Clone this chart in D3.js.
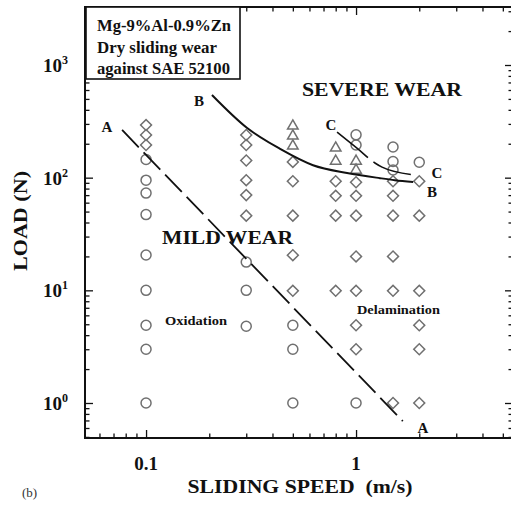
<!DOCTYPE html>
<html><head><meta charset="utf-8">
<script src="https://cdn.jsdelivr.net/npm/d3@7"></script>
<style>
html,body{margin:0;padding:0;background:#fff;}
svg{display:block;font-family:"Liberation Serif","Times New Roman",serif;}
</style></head>
<body><svg id="c" width="511" height="507"></svg>
<script>
// ---- data ----
const speeds = [0.1, 0.3, 0.5, 0.8, 1.0, 1.5, 2.0];
// circles (oxidation / mild wear)
const circleX = [0.1,0.1,0.1,0.1,0.1,0.1,0.1,0.1,0.1, 0.3,0.3,0.3, 0.5,0.5,0.5, 1.0,1.0,1.0, 1.5,1.5,1.5, 2.0];
const circleY = [145,95,73,47,20.6,10,4.9,3.0,1, 17.8,10,4.8, 4.9,3.0,1, 240,195,1, 187,139,117, 137];
// diamonds (delamination)
const diamondX = [0.1,0.1,0.1, 0.3,0.3,0.3,0.3,0.3,0.3, 0.5,0.5,0.5,0.5,0.5, 0.8,0.8,0.8,0.8, 1.0,1.0,1.0,1.0,1.0,1.0,1.0, 1.5,1.5,1.5,1.5,1.5,1.5, 2.0,2.0,2.0,2.0,2.0,2.0];
const diamondY = [293,239,195, 239,195,142,95,70,46, 138,93,46,20.5,9.9, 93,69,46,9.9, 91,69,46,20,9.9,4.9,3.0, 93,69,46,20,9.9,1, 93,46,9.9,4.9,3.0,1];
// triangles (severe wear)
const triX = [0.5,0.5,0.5, 0.8,0.8, 1.0,1.0];
const triY = [293,239,195, 187,143, 143,119];
// transition lines
const lineA = [[0.0769,265],[1.67,0.69]];
const lineB = [[0.206,542],[0.303,276],[0.435,180],[0.624,129],[0.906,110],[1.30,99],[1.53,95],[1.87,91.5]];
const lineC = [[0.812,254],[1.01,183],[1.23,135],[1.33,124],[1.87,106]];
const xTickLabels = [[0.1,"0.1"],[1,"1"]];
const yTickLabels = [[1000,"3"],[100,"2"],[10,"1"],[1,"0"]];

// ---- chart ----
const svg = d3.select("#c");
const L=85, R=513, T=7, B=438;
const x = d3.scaleLog().domain([0.0512,5.59]).range([L,R]);
const y = d3.scaleLog().domain([0.489,3272]).range([B,T]);

const xTicks = [0.06,0.07,0.08,0.09,0.1,0.2,0.3,0.4,0.5,0.6,0.7,0.8,0.9,1,2,3,4,5];
const yTicks = [0.5,0.6,0.7,0.8,0.9,1,2,3,4,5,6,7,8,9,10,20,30,40,50,60,70,80,90,100,200,300,400,500,600,700,800,900,1000,2000,3000];
const isMajor = v => Math.abs(Math.log10(v) - Math.round(Math.log10(v))) < 1e-6;

function styleAxis(g, horiz, sign){
  g.select(".domain").remove();
  g.selectAll(".tick line").attr("stroke","#111").attr("stroke-width",1.3)
    .each(function(d){
      const len = isMajor(d) ? 8 : 4.5;
      const s = d3.select(this);
      if(horiz) s.attr("y2", sign*len); else s.attr("x2", sign*len);
    });
  g.selectAll(".tick text").remove();
}
svg.append("g").attr("transform",`translate(0,${B})`)
  .call(d3.axisBottom(x).tickValues(xTicks).tickFormat(""))
  .call(g=>styleAxis(g,true,-1));
svg.append("g").attr("transform",`translate(0,${T})`)
  .call(d3.axisTop(x).tickValues(xTicks).tickFormat(""))
  .call(g=>styleAxis(g,true,1));
svg.append("g").attr("transform",`translate(${L},0)`)
  .call(d3.axisLeft(y).tickValues(yTicks).tickFormat(""))
  .call(g=>styleAxis(g,false,1));
svg.append("g").attr("transform",`translate(${R},0)`)
  .call(d3.axisRight(y).tickValues(yTicks).tickFormat(""))
  .call(g=>styleAxis(g,false,-1));

// frame
svg.append("rect").attr("x",L).attr("y",T).attr("width",R-L).attr("height",B-T)
  .attr("fill","none").attr("stroke","#111").attr("stroke-width",2);

// tick labels
svg.selectAll(".xl").data(xTickLabels).join("text")
  .attr("x",d=>x(d[0])).attr("y",470).attr("text-anchor","middle")
  .attr("font-size",19).attr("font-weight","bold").attr("fill","#111").text(d=>d[1]);
const yl = svg.selectAll(".yl").data(yTickLabels).join("text")
  .attr("x",68).attr("y",d=>y(d[0])+7).attr("font-size",19).attr("font-weight","bold")
  .attr("fill","#111").attr("text-anchor","end");
yl.append("tspan").text("10");
yl.append("tspan").attr("font-size",12).attr("dy",-8).text(d=>d[1]);
svg.selectAll(".yl2").remove();

// axis titles
svg.append("text").attr("x",300).attr("y",493).attr("text-anchor","middle")
  .attr("font-size",18).attr("font-weight","bold").attr("fill","#111")
  .attr("textLength",225).attr("lengthAdjust","spacingAndGlyphs")
  .attr("xml:space","preserve").text("SLIDING SPEED  (m/s)");
svg.append("text").attr("transform","translate(27,221) rotate(-90)").attr("text-anchor","middle")
  .attr("font-size",18).attr("font-weight","bold").attr("fill","#111")
  .attr("textLength",100).attr("lengthAdjust","spacingAndGlyphs").text("LOAD (N)");
svg.append("text").attr("x",22).attr("y",497).attr("font-size",13).attr("fill","#333").text("(b)");

// markers
const mk = "#707070";
const gm = svg.append("g").attr("fill","none").attr("stroke",mk).attr("stroke-width",1.5);
gm.selectAll(".ci").data(circleX.map((v,i)=>[v,circleY[i]])).join("circle")
  .attr("cx",d=>x(d[0])).attr("cy",d=>y(d[1])).attr("r",5);
const sq = d3.symbol().type(d3.symbolSquare).size(60);
gm.selectAll(".di").data(diamondX.map((v,i)=>[v,diamondY[i]])).join("path")
  .attr("d",sq).attr("transform",d=>`translate(${x(d[0])},${y(d[1])}) rotate(45)`);
const tr = d3.symbol().type(d3.symbolTriangle).size(48);
gm.selectAll(".tr").data(triX.map((v,i)=>[v,triY[i]])).join("path")
  .attr("d",tr).attr("transform",d=>`translate(${x(d[0])},${y(d[1])+1})`);

// lines
const ln = d3.line().x(d=>x(d[0])).y(d=>y(d[1]));
svg.append("path").attr("d",ln(lineA)).attr("fill","none").attr("stroke","#111")
  .attr("stroke-width",1.8).attr("stroke-dasharray","24,7");
svg.append("path").attr("d",ln.curve(d3.curveMonotoneX)(lineB)).attr("fill","none").attr("stroke","#111")
  .attr("stroke-width",2);
svg.append("path").attr("d",d3.line().x(d=>x(d[0])).y(d=>y(d[1])).curve(d3.curveMonotoneX)(lineC))
  .attr("fill","none").attr("stroke","#111").attr("stroke-width",1.6).attr("stroke-dasharray","40,7");

// line labels
const lbl = [["A",107,132],["A",423,433],["B",199,106],["B",432,197],["C",331,130],["C",437,178]];
svg.selectAll(".lb").data(lbl).join("text").attr("x",d=>d[1]).attr("y",d=>d[2])
  .attr("text-anchor","middle").attr("font-size",15).attr("font-weight","bold").attr("fill","#111").text(d=>d[0]);

// region labels
function rt(t,xx,yy,fs,len){
  svg.append("text").attr("x",xx).attr("y",yy).attr("font-size",fs).attr("font-weight","bold")
    .attr("fill","#111").attr("textLength",len).attr("lengthAdjust","spacingAndGlyphs").text(t);
}
rt("SEVERE WEAR",302,96,19,160);
rt("MILD WEAR",162,244,19,131);
rt("Oxidation",165,325,13.5,62);
rt("Delamination",357,314,13.5,83);

// info box
svg.append("rect").attr("x",86).attr("y",7).attr("width",154).attr("height",72)
  .attr("fill","#fff").attr("stroke","#111").attr("stroke-width",1.6);
rt("Mg-9%Al-0.9%Zn",97,31,16,134);
rt("Dry sliding wear",97,53,16,120);
rt("against SAE 52100",97,74,16,133);
</script></body></html>
